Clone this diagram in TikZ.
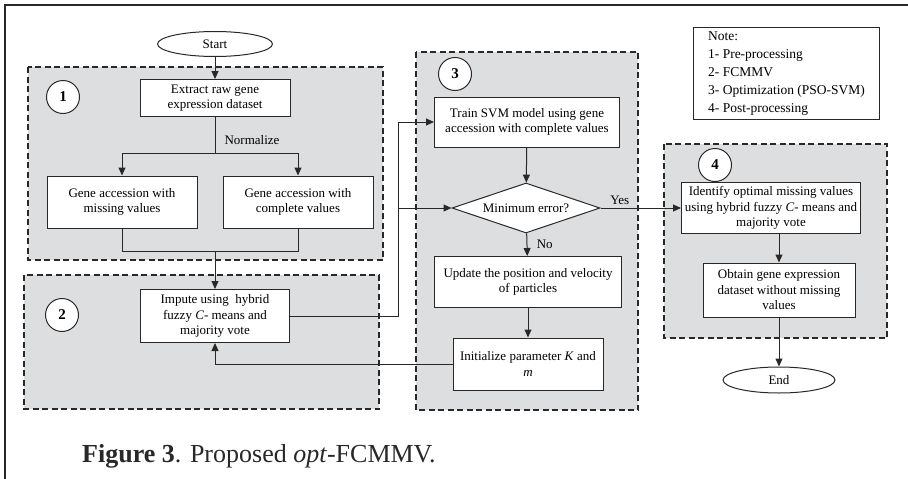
\documentclass[tikz,border=0pt]{standalone}
\usepackage{fontspec}
\setmainfont{Liberation Serif}
\definecolor{stagegray}{RGB}{221, 222, 224}
\definecolor{inkgray}{RGB}{40, 40, 40}
\usetikzlibrary{shapes, arrows.meta, positioning}
\newcommand{\boxfont}{\fontsize{13}{15.5}\selectfont}

\begin{document}
\begin{tikzpicture}[x=1pt, y=-1pt,
    proc/.style={draw=inkgray, fill=white, line width=1pt, align=center, font=\boxfont, inner sep=1pt},
    term/.style={ellipse, draw=inkgray, fill=white, line width=1pt, font=\boxfont, inner sep=0pt},
    decision/.style={diamond, aspect=2.96, draw=inkgray, fill=white, line width=1pt, font=\boxfont, inner sep=0pt, minimum width=148pt, minimum height=50pt},
    stage/.style={draw=inkgray, fill=stagegray, line width=1.1pt, dash pattern=on 6pt off 3.5pt},
    stagenum/.style={circle, draw=inkgray, fill=white, line width=1pt, minimum size=33pt, inner sep=0pt, font=\fontsize{15}{17}\selectfont\bfseries},
    arr/.style={-{Triangle[length=8pt, width=7pt]}, draw=inkgray, line width=1pt},
    link/.style={draw=inkgray, line width=1pt}]
  \useasboundingbox (0,0) rectangle (908,479);

  % outer frame (cut at right and bottom)
  \draw[draw=inkgray, line width=1.4pt] (5,479) -- (5,5) -- (908,5);

  % stage areas
  \draw[stage] (28,67) rectangle (383,260);
  \draw[stage] (24,275) rectangle (379,409);
  \draw[stage] (416,52) rectangle (638,410);
  \draw[stage] (664,144) rectangle (887,338);

  \node[stagenum] (n1) at (63,97) {1};
  \node[stagenum] (n2) at (62,315) {2};
  \node[stagenum] (n3) at (455,74) {3};
  \node[stagenum] (n4) at (715,165) {4};

  % Pre-processing
  \node[term, minimum width=115pt, minimum height=25pt] (start) at (215,44) {Start};
  \node[proc, minimum width=150pt, minimum height=37pt] (extract) at (215,98) {Extract raw gene\\expression dataset};
  \node[proc, minimum width=150pt, minimum height=52pt] (missing) at (122,202) {Gene accession with\\missing values};
  \node[proc, minimum width=150pt, minimum height=52pt] (complete) at (298,202) {Gene accession with\\complete values};

  % FCMMV
  \node[proc, minimum width=149pt, minimum height=53pt] (impute) at (215,316) {Impute using \ hybrid\\fuzzy \textit{C}- means and\\majority vote};

  % PSO-SVM
  \node[proc, minimum width=185pt, minimum height=50pt] (train) at (527,122) {Train SVM model using gene\\accession with complete values};
  \node[decision] (decide) at (526,208) {Minimum error?};
  \node[proc, minimum width=187pt, minimum height=51pt] (update) at (528,282) {Update the position and velocity\\of particles};
  \node[proc, minimum width=150pt, minimum height=52pt] (init) at (528,364) {Initialize parameter \textit{K} and\\\textit{m}};

  % Post-processing
  \node[proc, minimum width=179pt, minimum height=51pt] (identify) at (771,208) {Identify optimal missing values\\using hybrid fuzzy \textit{C}- means and\\majority vote};
  \node[proc, minimum width=152pt, minimum height=54pt] (obtain) at (779,290) {Obtain gene expression\\dataset without missing\\values};
  \node[term, minimum width=112pt, minimum height=26pt] (end) at (779,380) {End};

  % note
  \node[draw=inkgray, line width=1pt, anchor=north west, minimum width=186pt, minimum height=92pt, align=left, inner xsep=2pt, inner ysep=4pt, font=\fontsize{13.5}{18}\selectfont] (note) at (693,27) {Note:\\1- Pre-processing\\2- FCMMV\\3- Optimization (PSO-SVM)\\4- Post-processing};

  % connectors
  \coordinate (norm) at (215,153);
  \coordinate (merge) at (215,251);
  \coordinate (bus) at (398,122);
  \coordinate (jct) at (398,208);

  \draw[arr] (start) -- (extract);
  \draw[link] (extract) -- (norm);
  \node[font=\boxfont] (normlbl) at (252,140) {Normalize};
  \draw[arr] (norm) -| (missing);
  \draw[arr] (norm) -| (complete);
  \draw[link] (missing) |- (merge);
  \draw[link] (complete) |- (merge);
  \draw[arr] (merge) -- (impute);
  \draw[arr] (impute.east) -| (bus) -- (train.west);
  \draw[arr] (jct) -- (decide.west);
  \draw[arr] (train) -- (decide);
  \draw[arr] (decide) -- (identify) node[pos=0.24, above, font=\boxfont] (yes) {Yes};
  \draw[arr] (decide) -- (update) node[pos=0.5, right=6pt, font=\boxfont] (no) {No};
  \draw[arr] (update) -- (init);
  \draw[arr] (init.west) -| (impute.south);
  \draw[arr] (identify.south -| obtain.north) -- (obtain.north);
  \draw[arr] (obtain) -- (end);

  % caption
  \node[anchor=west, font=\fontsize{26}{30}\selectfont, text=inkgray, inner sep=0pt] (caption) at (82,456) {\textbf{Figure 3}. Proposed \textit{opt}-FCMMV.};
\end{tikzpicture}
\end{document}
